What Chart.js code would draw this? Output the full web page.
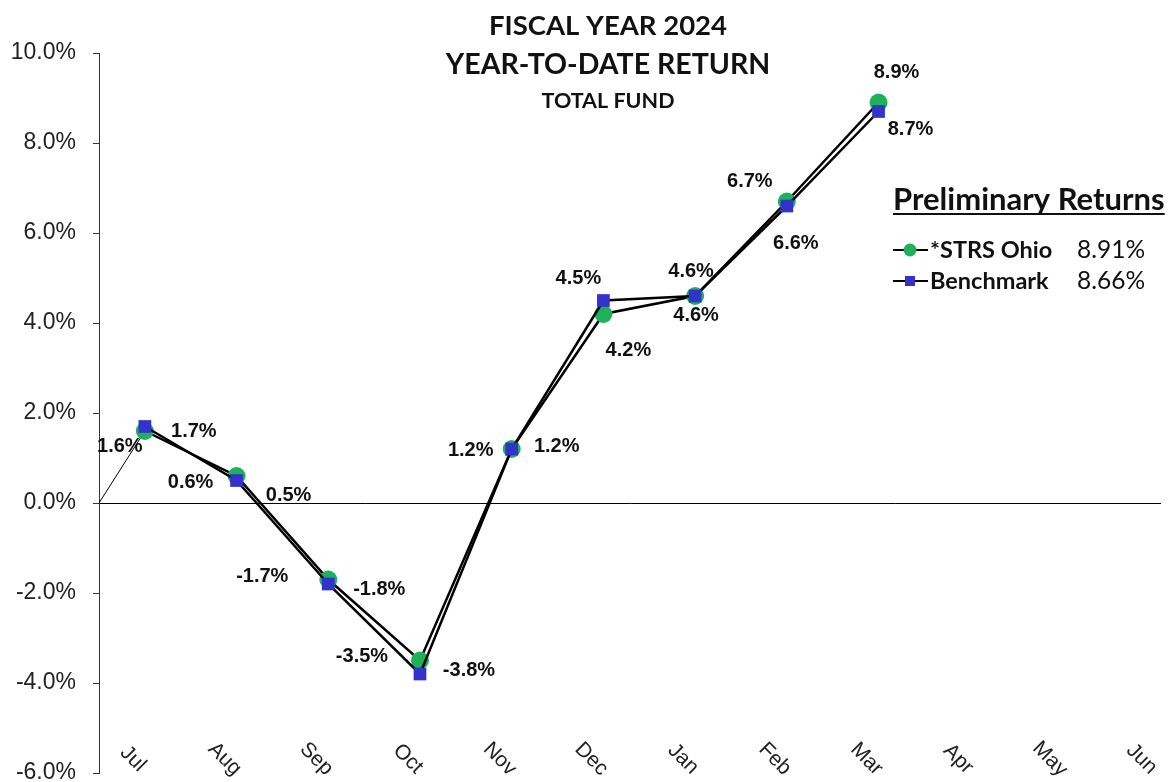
<!DOCTYPE html>
<html>
<head>
<meta charset="UTF-8">
<title>Fiscal Year 2024 Year-to-Date Return</title>
<script src="https://cdn.jsdelivr.net/npm/chart.js"></script>
<style>
  body { margin: 0; background: #fff; }
  #wrap { width: 1170px; height: 782px; }
</style>
</head>
<body>
<div id="wrap"><canvas id="ytd"></canvas></div>
<script>
const months = ['Jul', 'Aug', 'Sep', 'Oct', 'Nov', 'Dec', 'Jan', 'Feb', 'Mar', 'Apr', 'May', 'Jun'];
const strsOhio = [1.6, 0.6, -1.7, -3.5, 1.2, 4.2, 4.6, 6.7, 8.9];
const benchmark = [1.7, 0.5, -1.8, -3.8, 1.2, 4.5, 4.6, 6.6, 8.7];
const yTicks = [-6, -4, -2, 0, 2, 4, 6, 8, 10];
const titleLines = ['FISCAL YEAR 2024', 'YEAR-TO-DATE RETURN', 'TOTAL FUND'];
const legendTitle = 'Preliminary Returns';
const legendNames = ['*STRS Ohio', 'Benchmark'];
const legendValues = ['8.91%', '8.66%'];

// where each point label sits relative to its marker, [dx, dy] in px
const strsNudge = [[-25, 15], [-46, 6], [-66, -3], [-58, -4], [-41, 1], [25, 36], [1, 19], [-37, -20], [18, -30]];
const benchNudge = [[49, 5], [52, 15], [51, 5], [49, -4], [45, -3], [-25, -22], [-4, -25], [9, 37], [32, 18]];

const GREEN = '#1DB25A';
const BLUE = '#3333CC';

const toXY = arr => arr.map((v, i) => ({ x: i, y: v }));

const overlay = {
  id: 'overlay',
  afterDraw(chart) {
    const c = chart.ctx;
    const xs = chart.scales.x, ys = chart.scales.y;
    c.save();

    // title
    c.fillStyle = '#111';
    c.textAlign = 'center';
    c.textBaseline = 'middle';
    c.font = 'bold 27.5px Lato';
    c.fillText(titleLines[0], 608, 26);
    c.font = 'bold 28.5px Lato';
    c.fillText(titleLines[1], 608, 65);
    c.font = 'bold 21.5px Lato';
    c.fillText(titleLines[2], 608, 101);

    // month labels, turned clockwise, inside the plot bottom
    c.font = '21px "Liberation Sans"';
    c.fillStyle = '#222';
    months.forEach((m, i) => {
      const px = xs.getPixelForValue(i);
      c.save();
      c.translate(px - 12, 759);
      c.rotate(Math.PI / 4);
      c.fillText(m, 0, 0);
      c.restore();
    });

    // point labels
    c.font = 'bold 20px "Liberation Sans"';
    c.fillStyle = '#111';
    const putLabels = (vals, nudge) => {
      vals.forEach((v, i) => {
        const px = xs.getPixelForValue(i), py = ys.getPixelForValue(v);
        c.fillText(v.toFixed(1) + '%', px + nudge[i][0], py + nudge[i][1]);
      });
    };
    putLabels(strsOhio, strsNudge);
    putLabels(benchmark, benchNudge);

    // legend box
    c.textAlign = 'left';
    c.textBaseline = 'alphabetic';
    c.font = 'bold 31px Lato';
    c.fillStyle = '#111';
    c.fillText(legendTitle, 893, 210);
    const w = c.measureText(legendTitle).width;
    c.fillRect(893, 213, w, 2);

    legendNames.forEach((name, i) => {
      const y = 250 + i * 31;
      c.strokeStyle = '#000';
      c.lineWidth = 2;
      c.beginPath();
      c.moveTo(893, y);
      c.lineTo(928, y);
      c.stroke();
      if (i === 0) {
        c.fillStyle = GREEN;
        c.beginPath();
        c.arc(910, y, 6.5, 0, Math.PI * 2);
        c.fill();
      } else {
        c.fillStyle = BLUE;
        c.fillRect(905, y - 5, 10, 10);
      }
      c.fillStyle = '#111';
      c.textBaseline = 'middle';
      c.font = 'bold 23.5px Lato';
      c.fillText(name, 930, y);
      c.font = '24.5px Lato';
      c.fillText(legendValues[i], 1077, y);
    });

    c.restore();
  }
};

new Chart(document.getElementById('ytd'), {
  type: 'line',
  data: {
    datasets: [
      {
        label: 'Benchmark',
        data: toXY(benchmark),
        borderColor: '#000',
        borderWidth: 2.5,
        pointStyle: 'rect',
        pointRadius: 9,
        pointBackgroundColor: BLUE,
        pointBorderWidth: 0,
        order: 0
      },
      {
        label: '*STRS Ohio',
        data: toXY(strsOhio),
        borderColor: '#000',
        borderWidth: 2.5,
        pointStyle: 'circle',
        pointRadius: 9,
        pointBackgroundColor: GREEN,
        pointBorderWidth: 0,
        order: 1
      },
      {
        label: 'start',
        data: [{ x: -0.5, y: 0 }, { x: 0, y: strsOhio[0] }],
        borderColor: '#000',
        borderWidth: 1,
        pointRadius: 0,
        order: 2
      }
    ]
  },
  options: {
    responsive: true,
    maintainAspectRatio: false,
    animation: false,
    layout: { padding: { top: 53, left: 0, right: 0, bottom: 0 } },
    plugins: {
      legend: { display: false },
      tooltip: { enabled: false }
    },
    scales: {
      x: {
        type: 'linear',
        min: -0.5,
        max: 11.08,
        grid: { display: false },
        border: { display: false },
        ticks: { display: false },
        afterFit: s => { s.height = 9; }
      },
      y: {
        min: -6,
        max: 10,
        afterBuildTicks: s => { s.ticks = yTicks.map(v => ({ value: v })); },
        ticks: {
          callback: v => v.toFixed(1) + '%',
          font: { family: 'Liberation Sans', size: 23 },
          color: '#222',
          padding: 17
        },
        grid: {
          drawOnChartArea: true,
          color: c => (c.tick && c.tick.value === 0 ? '#000' : 'rgba(0,0,0,0)'),
          tickColor: '#333',
          tickLength: 6,
          lineWidth: 1
        },
        border: { display: true, color: '#333', width: 1 },
        afterFit: s => { s.width = 99; s.paddingTop = 0; s.paddingBottom = 0; }
      }
    }
  },
  plugins: [overlay]
});
</script>
</body>
</html>
